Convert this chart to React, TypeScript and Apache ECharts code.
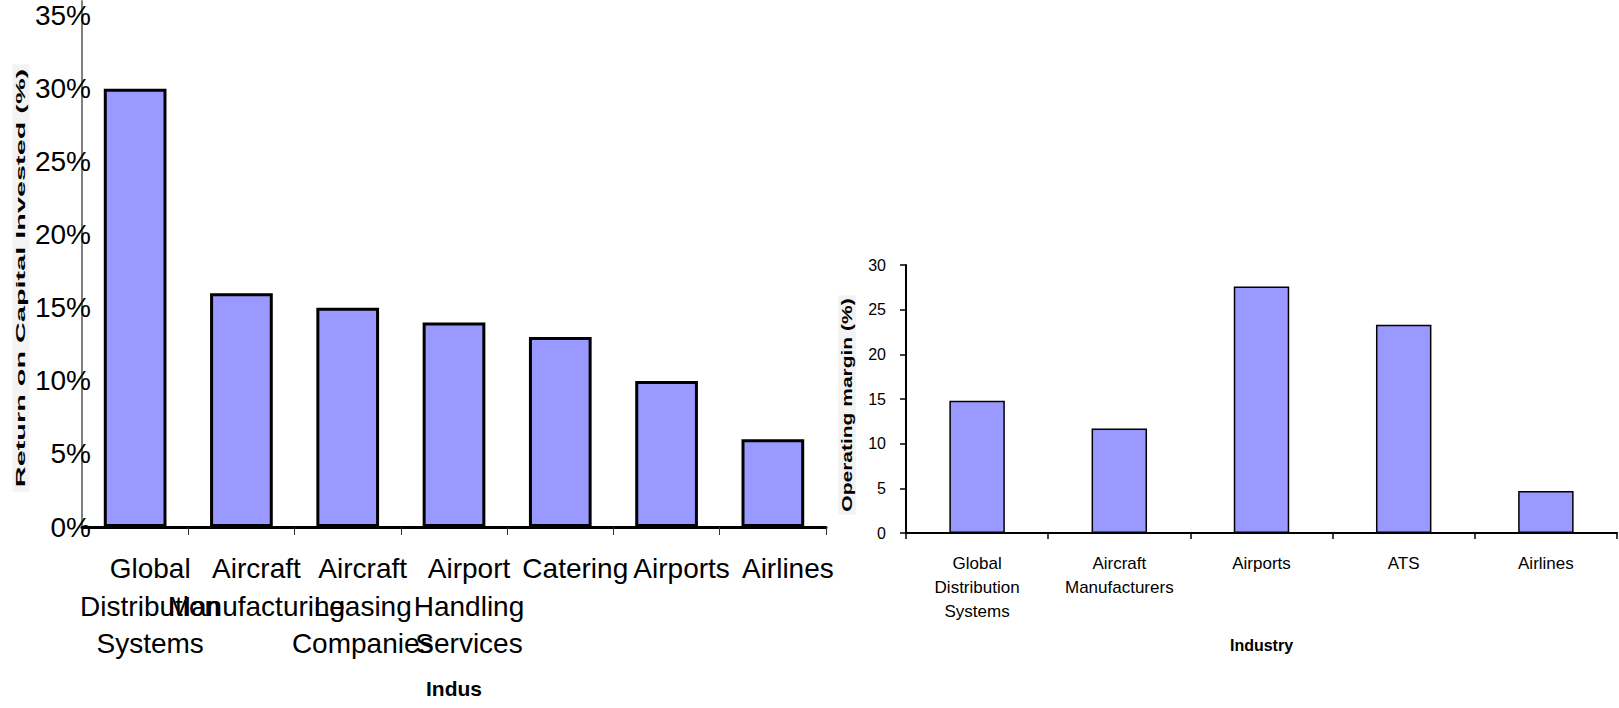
import React, { useEffect, useRef } from "react";
import * as echarts from "echarts";

const roicCategories = [
  "Global\nDistribution\nSystems",
  "Aircraft\nManufacturing",
  "Aircraft\nLeasing\nCompanies",
  "Airport\nHandling\nServices",
  "Catering",
  "Airports",
  "Airlines",
];
const roicValues = [30, 16, 15, 14, 13, 10, 6];
const roicTitle = "Return on Capital Invested (%)";
const roicAxisName = "Indus";

const marginCategories = [
  "Global\nDistribution\nSystems",
  "Aircraft\nManufacturers",
  "Airports",
  "ATS",
  "Airlines",
];
const marginValues = [14.8, 11.7, 27.6, 23.3, 4.7];
const marginTitle = "Operating margin (%)";
const marginAxisName = "Industry";

const FONT = '"Liberation Sans", Arial, sans-serif';
const BAR = "#9999FF";

export default function App() {
  const ref = useRef<HTMLDivElement>(null);
  useEffect(() => {
    if (!ref.current) return;
    const chart = echarts.init(ref.current, null, { renderer: "svg" });
    chart.setOption({
      animation: false,
      backgroundColor: "#ffffff",
      textStyle: { fontFamily: FONT },
      grid: [
        { left: 82, top: 1, width: 744, height: 526, containLabel: false },
        { left: 906, top: 265, width: 711, height: 268, containLabel: false },
      ],
      xAxis: [
        {
          type: "category",
          gridIndex: 0,
          data: roicCategories,
          axisLine: { lineStyle: { color: "#000", width: 3 } },
          axisTick: { show: true, length: 8, lineStyle: { color: "#333", width: 1 } },
          axisLabel: {
            interval: 0,
            fontSize: 28,
            lineHeight: 37.5,
            color: "#000",
            fontFamily: FONT,
            margin: 23,
            padding: [0, 0, 0, 30],
          },
          name: roicAxisName,
          nameLocation: "middle",
          nameGap: 151,
          nameTextStyle: { fontSize: 21, fontWeight: "bold", color: "#000", fontFamily: FONT },
        },
        {
          type: "category",
          gridIndex: 1,
          data: marginCategories,
          axisLine: { lineStyle: { color: "#000", width: 2 } },
          axisTick: { show: true, length: 6, lineStyle: { color: "#000", width: 1.5 } },
          axisLabel: {
            interval: 0,
            fontSize: 17,
            lineHeight: 24,
            color: "#000",
            fontFamily: FONT,
            margin: 18,
          },
          name: marginAxisName,
          nameLocation: "middle",
          nameGap: 104,
          nameTextStyle: { fontSize: 16, fontWeight: "bold", color: "#000", fontFamily: FONT },
        },
      ],
      yAxis: [
        {
          type: "value",
          gridIndex: 0,
          min: 0,
          max: 36,
          interval: 5,
          splitLine: { show: false },
          axisLine: { show: true, lineStyle: { color: "#808080", width: 2 } },
          axisTick: { show: false },
          axisLabel: {
            fontSize: 28,
            color: "#000",
            fontFamily: FONT,
            margin: -9,
            formatter: (v: number) => (v % 5 === 0 ? v + "%" : ""),
          },
        },
        {
          type: "value",
          gridIndex: 1,
          min: 0,
          max: 30,
          interval: 5,
          splitLine: { show: false },
          axisLine: { show: true, lineStyle: { color: "#000", width: 2 } },
          axisTick: { show: true, length: 6, lineStyle: { color: "#000", width: 1.5 } },
          axisLabel: { fontSize: 16, color: "#000", fontFamily: FONT, margin: 20 },
        },
      ],
      series: [
        {
          type: "bar",
          xAxisIndex: 0,
          yAxisIndex: 0,
          data: roicValues,
          barWidth: "59%",
          itemStyle: { color: BAR, borderColor: "#000", borderWidth: 3 },
        },
        {
          type: "bar",
          xAxisIndex: 1,
          yAxisIndex: 1,
          data: marginValues,
          barWidth: "39%",
          itemStyle: { color: BAR, borderColor: "#000", borderWidth: 1.5 },
        },
      ],
      graphic: [
        {
          type: "text",
          x: 21,
          y: 278,
          rotation: Math.PI / 2,
          scaleX: 2.22,
          style: {
            text: roicTitle,
            font: 'bold 13px "Liberation Sans", Arial, sans-serif',
            fill: "#000",
            align: "center",
            verticalAlign: "middle",
            backgroundColor: "#f3f3f3",
            padding: [2, 2],
          },
        },
        {
          type: "text",
          x: 847,
          y: 405,
          rotation: Math.PI / 2,
          scaleX: 1.5,
          style: {
            text: marginTitle,
            font: 'bold 14px "Liberation Sans", Arial, sans-serif',
            fill: "#000",
            align: "center",
            verticalAlign: "middle",
            backgroundColor: "#f3f3f3",
            padding: [2, 2],
          },
        },
      ],
    });
    return () => chart.dispose();
  }, []);
  return (
    <div
      ref={ref}
      style={{ position: "fixed", left: 0, top: 0, width: 1619, height: 708 }}
    />
  );
}
